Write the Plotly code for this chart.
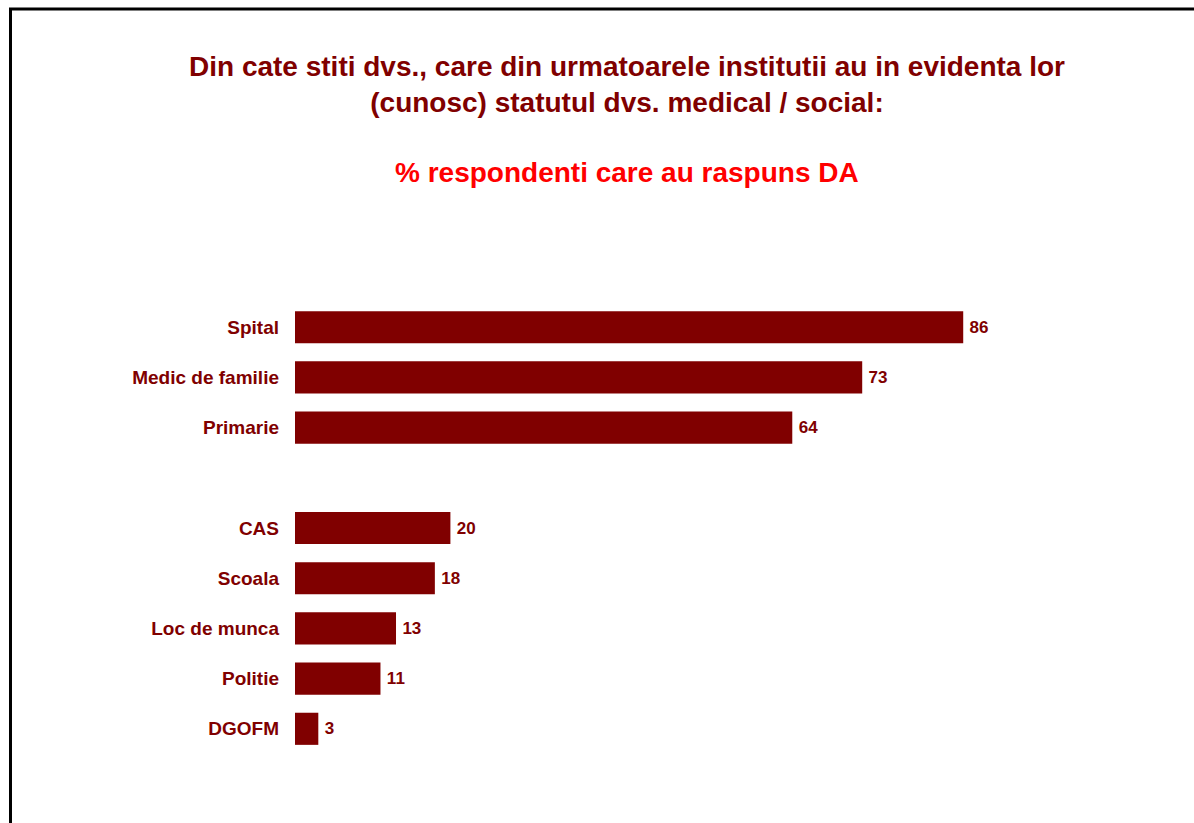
import plotly.graph_objects as go

# Institutions and share of respondents answering "DA" (%)
group_top = ["Spital", "Medic de familie", "Primarie"]
values_top = [86, 73, 64]
group_bottom = ["CAS", "Scoala", "Loc de munca", "Politie", "DGOFM"]
values_bottom = [20, 18, 13, 11, 3]

title_lines = [
    "Din cate stiti dvs., care din urmatoarele institutii au in evidenta lor",
    "(cunosc) statutul dvs. medical / social:",
]
subtitle = "% respondenti care au raspuns DA"

DARK_RED = "#800000"
RED = "#FF0000"
FONT = "Liberation Sans, Arial, sans-serif"

W, H = 1194, 823
L, R, T, B = 295, 122, 277, 44
plot_w = W - L - R
plot_h = H - T - B

# slot positions: first group, one empty slot, second group
categories = group_top + group_bottom
values = values_top + values_bottom
slots = list(range(len(group_top))) + [len(group_top) + 1 + i for i in range(len(group_bottom))]


def px_x(px):
    return (px - L) / plot_w


def px_y(py):
    return (H - B - py) / plot_h


fig = go.Figure(
    go.Bar(
        x=values,
        y=slots,
        orientation="h",
        width=0.64,
        marker=dict(color=DARK_RED, line=dict(width=0)),
        text=values,
        texttemplate="\u2009%{text}",
        textposition="outside",
        textfont=dict(family=FONT, size=17, color=DARK_RED, weight="bold"),
        cliponaxis=False,
        hoverinfo="skip",
    )
)

fig.update_layout(
    width=W,
    height=H,
    margin=dict(l=L, r=R, t=T, b=B, pad=0),
    paper_bgcolor="white",
    plot_bgcolor="white",
    showlegend=False,
    font=dict(family=FONT, color=DARK_RED),
    xaxis=dict(
        range=[0, 100],
        showgrid=False,
        zeroline=False,
        showline=False,
        showticklabels=False,
        ticks="",
    ),
    yaxis=dict(
        range=[len(slots) + 1, -1],
        tickmode="array",
        tickvals=slots,
        ticktext=categories,
        tickfont=dict(family=FONT, size=19, color=DARK_RED, weight="bold"),
        showgrid=False,
        zeroline=False,
        showline=False,
        ticks="",
        ticklabelstandoff=15,
    ),
    annotations=[
        dict(
            text="<br>".join(title_lines),
            xref="paper", yref="paper",
            x=px_x(626.5), y=px_y(84.5),
            xanchor="center", yanchor="middle",
            showarrow=False,
            font=dict(family=FONT, size=28, color=DARK_RED, weight="bold"),
        ),
        dict(
            text=subtitle,
            xref="paper", yref="paper",
            x=px_x(626.5), y=px_y(172),
            xanchor="center", yanchor="middle",
            showarrow=False,
            font=dict(family=FONT, size=28, color=RED, weight="bold"),
        ),
    ],
    shapes=[
        dict(
            type="path",
            xref="paper", yref="paper",
            path=f"M {px_x(10.5)},{px_y(H + 10)} L {px_x(10.5)},{px_y(9)} L {px_x(W + 10)},{px_y(9)}",
            line=dict(color="black", width=3),
        )
    ],
)

fig.write_html("out.html")
